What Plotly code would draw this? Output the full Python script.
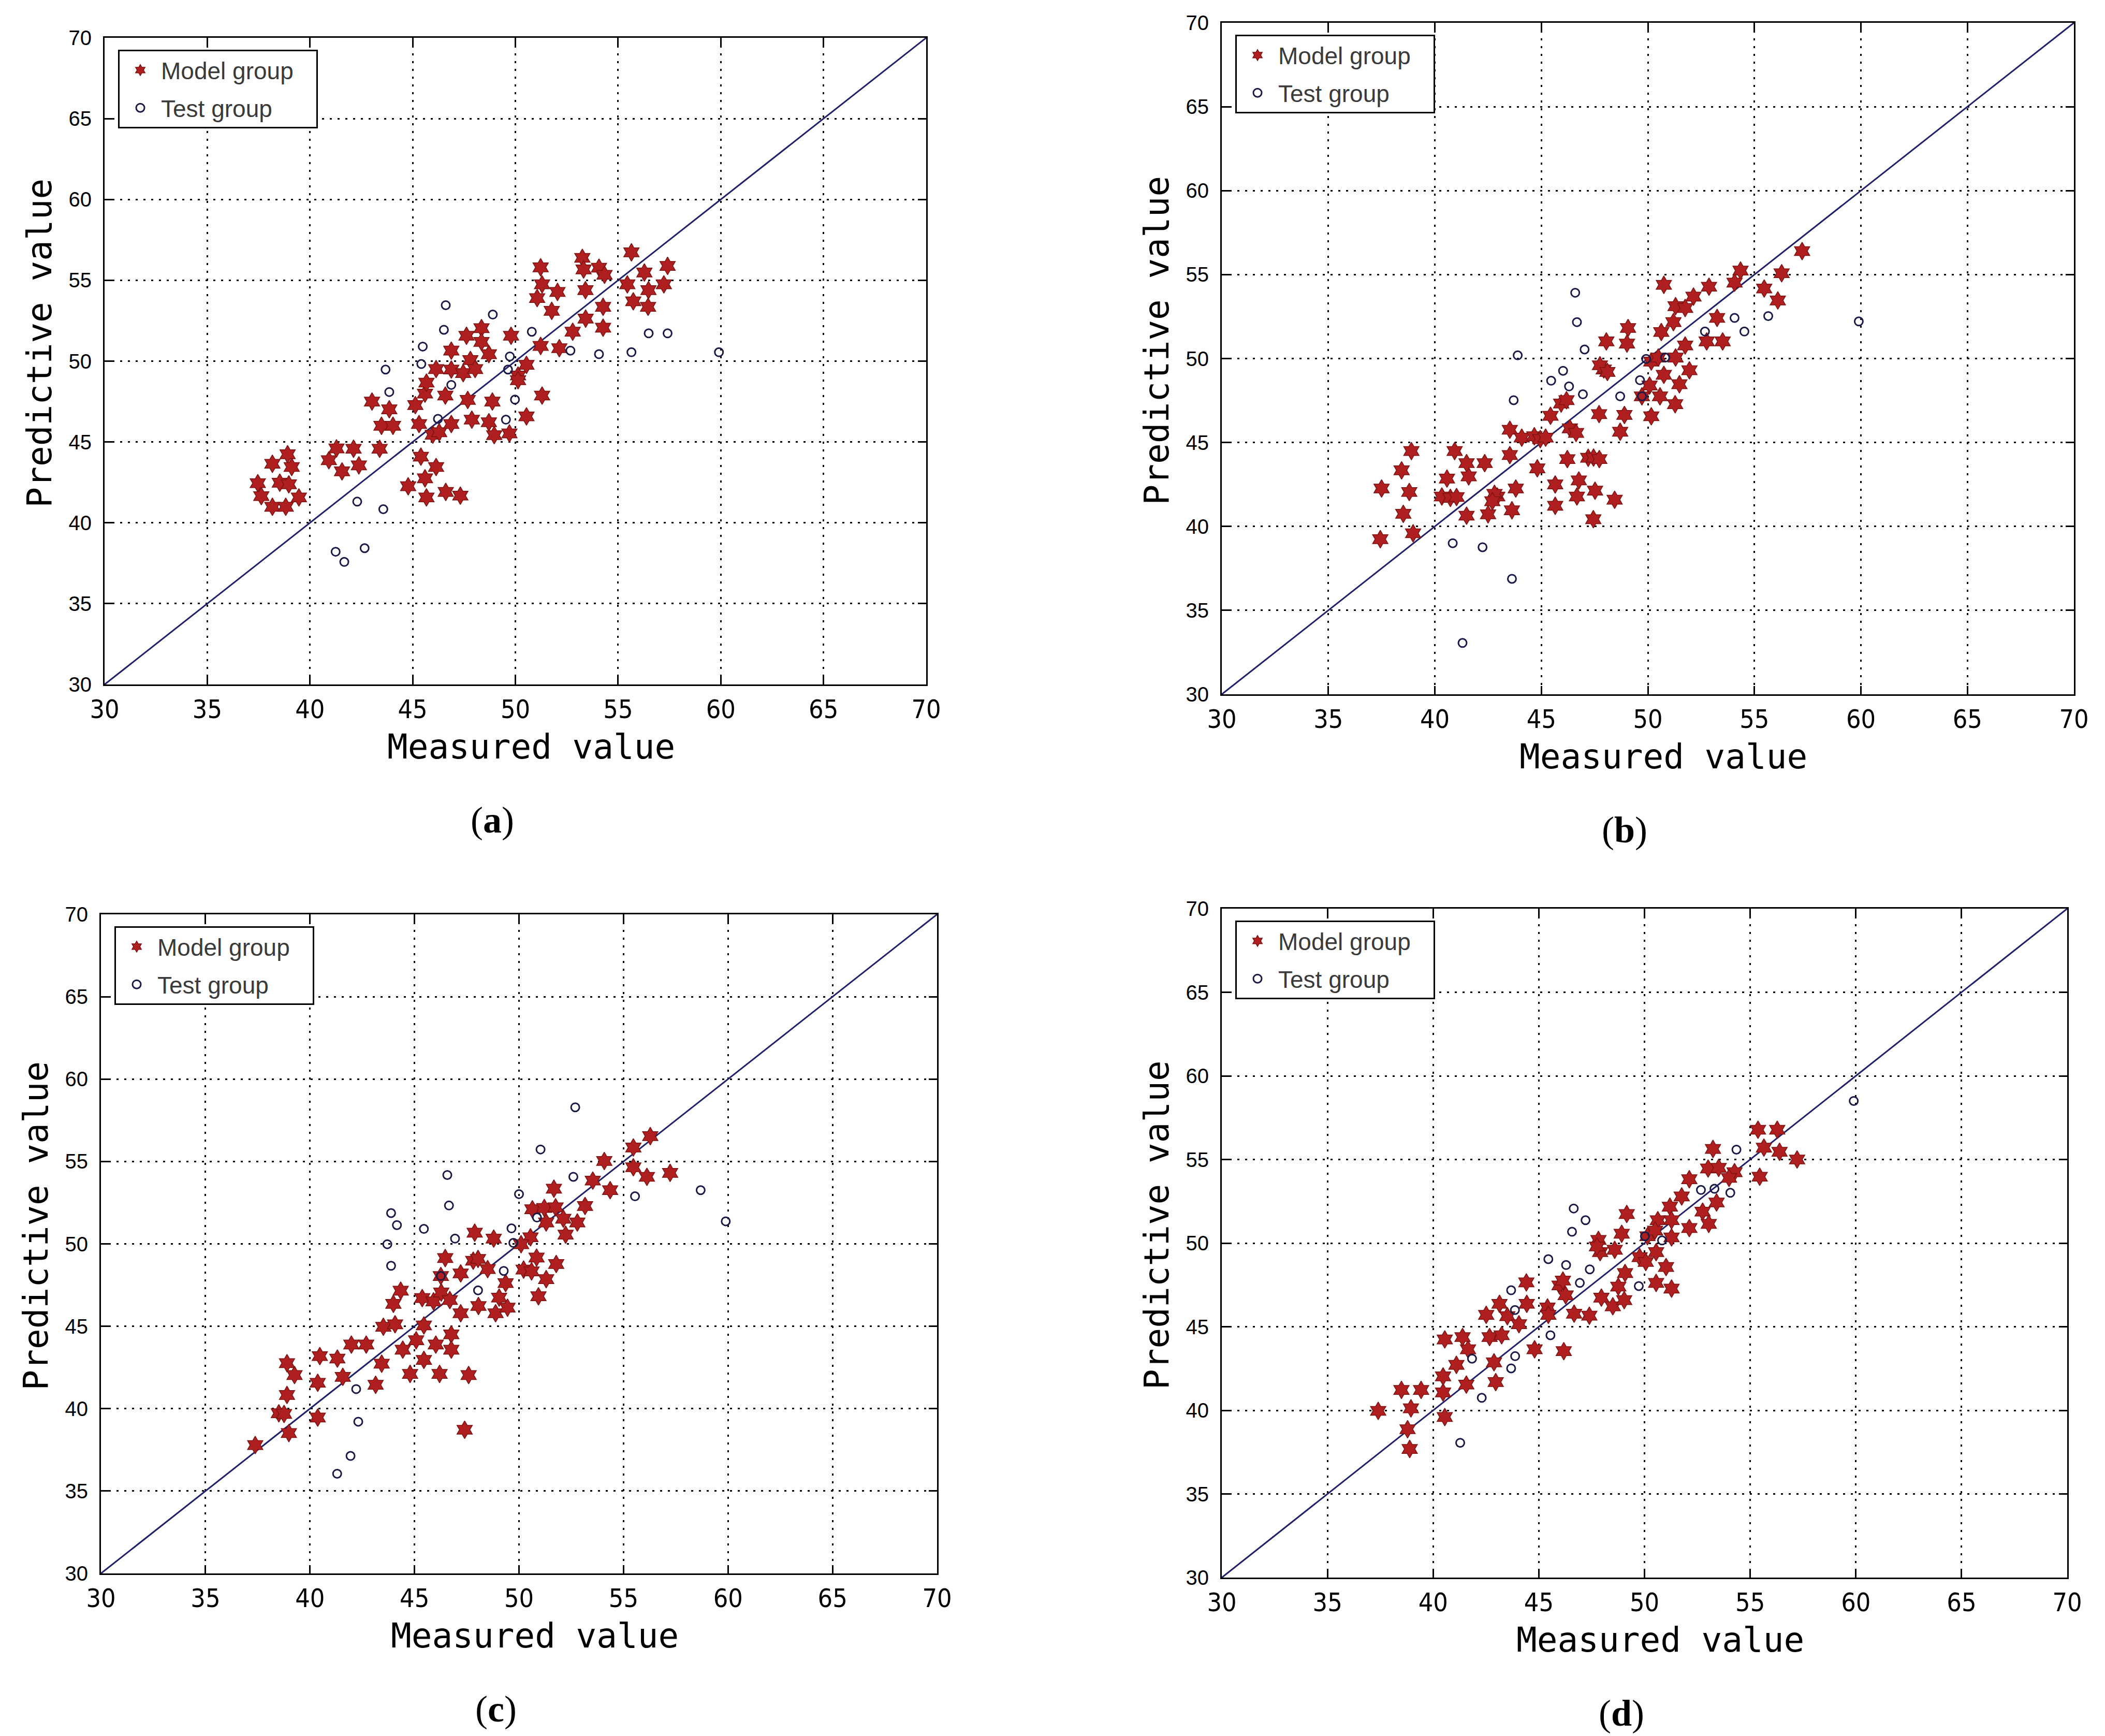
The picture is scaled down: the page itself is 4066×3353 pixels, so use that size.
import plotly.graph_objects as go

W, H = 4066, 3353

# ---- panel (a) ----
a_model_x = [37.46, 37.63, 38.17, 38.17, 38.91, 39.11, 38.53, 38.97, 38.82, 39.46, 40.92, 41.29, 42.12, 41.56,
             42.38, 43.02, 43.86, 43.48, 44.04, 43.39, 44.78, 45.4, 45.6, 45.67, 46.14, 46.61, 47.32, 45.13,
             45.31, 45.6, 45.67, 46.14, 45.98, 46.29, 46.59, 46.88, 46.88, 46.88, 47.46, 47.81, 48.04, 47.62,
             48.35, 48.35, 48.71, 47.68, 47.88, 48.71, 48.88, 48.97, 49.71, 49.79, 50.13, 50.13, 50.54, 50.54,
             53.26, 55.65, 51.23, 53.32, 54.07, 54.34, 57.41, 56.28, 51.3, 52.05, 51.06, 53.41, 55.45, 56.48,
             57.23, 51.77, 54.27, 55.74, 56.46, 53.42, 54.27, 52.79, 51.23, 52.14, 51.3]
a_model_y = [42.45, 41.65, 43.65, 40.99, 44.24, 43.45, 42.48, 42.38, 40.99, 41.57, 43.87, 44.6, 44.58, 43.18,
             43.55, 47.5, 47.02, 46.0, 46.0, 44.58, 42.26, 44.09, 42.75, 41.57, 43.45, 41.91, 41.68, 47.28,
             46.11, 47.99, 48.67, 49.51, 45.45, 45.6, 47.87, 46.11, 49.48, 50.65, 49.26, 50.07, 49.51, 51.57,
             52.04, 51.19, 50.43, 47.6, 46.38, 46.22, 47.5, 45.42, 45.53, 51.57, 49.11, 48.82, 49.77, 46.58,
             56.39, 56.73, 55.8, 55.67, 55.78, 55.34, 55.89, 55.48, 54.75, 54.28, 53.9, 54.39, 54.75, 54.39,
             54.75, 53.11, 53.36, 53.7, 53.36, 52.63, 52.07, 51.82, 50.94, 50.8, 47.87]
a_test_x = [46.61, 48.9, 46.52, 45.49, 45.42, 43.68, 43.86, 46.88, 49.73, 49.64, 50.8, 49.98, 46.23, 49.54,
            42.3, 43.57, 42.66, 41.25, 41.67, 52.68, 54.07, 55.65, 56.49, 57.41, 59.91]
a_test_y = [53.46, 52.88, 51.94, 50.9, 49.82, 49.48, 48.09, 48.53, 50.29, 49.48, 51.82, 47.62, 46.43, 46.38,
            41.31, 40.84, 38.43, 38.21, 37.58, 50.65, 50.43, 50.55, 51.72, 51.72, 50.55]

# ---- panel (b) ----
b_model_x = [37.44, 38.98, 38.52, 37.5, 38.8, 38.44, 38.9, 40.93, 40.57, 41.59, 41.49, 42.34, 40.33, 40.73,
             41.02, 41.49, 42.5, 42.93, 42.8, 42.7, 43.8, 43.62, 43.52, 43.52, 44.08, 44.67, 44.95, 45.2, 44.81,
             45.43, 45.93, 46.18, 46.22, 46.34, 46.63, 45.65, 45.65, 46.76, 46.67, 47.52, 47.44, 48.44, 47.2,
             47.45, 47.72, 47.71, 48.7, 48.9, 47.93, 47.75, 48.1, 48.05,
             57.24, 56.28, 55.46, 56.1, 54.35, 54.07, 52.87, 50.75, 52.14, 51.3, 51.75, 51.2, 50.63, 53.25,
             49.07, 49.02, 51.75, 52.76, 53.51, 51.3, 50.16, 50.49, 51.95, 50.75, 50.08, 51.48, 49.72, 50.57,
             51.28, 50.16]
b_model_y = [39.24, 39.59, 40.75, 42.26, 42.05, 43.34, 44.49, 44.49, 42.85, 42.98, 43.77, 43.77, 41.78, 41.7,
             41.75, 40.64, 40.72, 41.78, 41.94, 41.5, 42.26, 40.96, 44.25, 45.76, 45.29, 45.37, 45.2, 45.29, 43.46,
             46.59, 47.32, 47.52, 44.01, 45.84, 45.57, 42.5, 41.23, 42.74, 41.78, 42.13, 40.43, 41.59, 44.09,
             44.1, 44.01, 46.69, 45.64, 46.64, 49.35, 49.6, 49.2, 51.02,
             56.4, 55.08, 54.17, 53.46, 55.24, 54.52, 54.28, 54.39, 53.69, 53.12, 53.01, 52.17, 51.58, 52.42,
             51.82, 50.89, 50.78, 51.02, 51.02, 50.06, 49.82, 50.06, 49.3, 49.03, 48.39, 48.47, 47.75, 47.75,
             47.28, 46.56]
b_test_x = [46.59, 46.67, 47.03, 43.89, 46.02, 45.46, 46.3, 46.95, 48.7, 43.7, 40.84, 42.24, 43.62, 41.3,
            52.68, 54.07, 54.53, 55.65, 59.9, 49.63, 50.81, 49.92, 49.72]
b_test_y = [53.92, 52.17, 50.54, 50.19, 49.27, 48.68, 48.34, 47.87, 47.75, 47.52, 39.0, 38.76, 36.88, 33.06,
            51.61, 52.42, 51.61, 52.53, 52.21, 48.71, 50.06, 49.98, 47.75]

# ---- panel (c) ----
c_model_x = [37.38, 38.99, 38.51, 38.76, 38.9, 39.26, 38.9, 40.37, 40.37, 40.47, 41.31, 41.57, 41.98, 42.69,
             43.14, 43.43, 43.51, 44.07, 43.99, 44.34, 44.44, 44.79, 45.08, 45.45, 45.45, 46.02, 46.2, 46.76,
             46.76, 47.59, 47.4, 45.37, 45.91, 46.28, 46.69, 46.26, 46.47, 47.21, 47.21, 47.81, 48.04, 47.88,
             48.5, 48.06, 48.79, 48.88, 49.05,
             56.28, 55.47, 54.08, 55.47, 56.12, 57.23, 53.53, 54.36, 51.67, 53.16, 50.64, 51.21, 51.75, 51.3,
             52.12, 52.79, 52.23, 50.55, 50.1, 50.84, 51.78, 50.22, 50.6, 51.3, 49.36, 49.45, 50.93]
c_model_y = [37.79, 38.52, 39.72, 39.68, 40.83, 42.04, 42.76, 39.46, 41.57, 43.19, 43.04, 41.93, 43.89, 43.89,
             41.45, 42.73, 44.97, 45.12, 46.36, 47.16, 43.58, 42.11, 44.15, 45.05, 42.96, 43.89, 42.11, 44.51,
             43.58, 42.04, 38.72, 46.71, 46.51, 47.05, 46.59, 48.05, 49.14, 48.21, 45.79, 48.98, 49.09, 50.68,
             48.47, 46.23, 50.32, 45.79, 46.74,
             56.54, 55.85, 55.03, 54.65, 54.07, 54.31, 53.84, 53.26, 53.35, 52.3, 52.1, 52.18, 52.22, 51.3,
             51.53, 51.3, 50.56, 50.4, 49.98, 49.17, 48.78, 48.44, 48.33, 47.86, 47.62, 46.13, 46.82]
c_test_x = [46.57, 46.65, 43.88, 44.16, 45.45, 46.94, 43.7, 43.88, 46.26, 48.04, 42.21, 42.31, 41.94, 41.3,
            52.69, 51.03, 52.6, 50.0, 50.86, 49.64, 49.73, 49.27, 55.55, 58.69, 59.89]
c_test_y = [54.18, 52.33, 51.87, 51.14, 50.91, 50.32, 49.98, 48.67, 48.05, 47.18, 41.19, 39.21, 37.13, 36.05,
            58.29, 55.73, 54.07, 53.02, 51.6, 50.94, 50.06, 48.36, 52.89, 53.26, 51.37]

# ---- panel (d) ----
d_model_x = [37.4, 38.89, 38.79, 38.95, 38.5, 39.43, 40.55, 40.47, 40.47, 41.1, 41.57, 41.65, 40.55, 41.39,
             42.88, 42.96, 42.67, 43.24, 42.51, 43.14, 43.51, 44.06, 44.43, 44.41, 44.8, 46.18, 45.41, 45.45,
             45.98, 46.14, 46.27, 46.67, 47.39, 47.96, 48.5, 48.76, 47.82, 47.9, 47.75, 48.59, 48.92,
             55.37, 56.28, 55.65, 56.39, 57.22, 55.45, 53.24, 53.01, 53.51, 54.26, 54.0, 52.12, 51.76, 51.2,
             49.16, 50.63, 51.28, 52.75, 53.41, 53.04, 52.12, 50.14, 50.5, 51.28, 50.55, 49.77, 50.06, 51.02,
             49.08, 50.55, 51.28, 49.04]
d_model_y = [39.97, 37.69, 38.87, 40.12, 41.22, 41.22, 39.6, 41.07, 42.03, 42.72, 41.54, 43.65, 44.24, 44.38,
             42.87, 41.69, 44.38, 44.49, 45.71, 46.37, 45.63, 45.15, 46.37, 47.65, 43.65, 43.54, 46.15, 45.71,
             47.47, 47.76, 46.88, 45.78, 45.66, 46.74, 46.22, 47.4, 50.19, 49.46, 49.8, 49.6, 50.56,
             56.78, 56.78, 55.71, 55.46, 55.0, 53.97, 55.63, 54.46, 54.5, 54.24, 53.9, 53.82, 52.79, 52.18,
             51.74, 51.37, 51.37, 51.88, 52.43, 51.15, 50.9, 50.41, 50.75, 50.34, 49.46, 49.16, 48.87, 48.57,
             48.21, 47.62, 47.28, 46.59]
d_test_x = [46.65, 47.21, 46.57, 45.45, 46.29, 47.41, 46.94, 43.69, 43.87, 45.55, 43.88, 43.69, 41.84, 42.3,
            41.28, 59.9, 54.35, 52.67, 53.31, 54.06, 50.02, 50.83, 49.73]
d_test_y = [52.07, 51.37, 50.68, 49.04, 48.69, 48.43, 47.62, 47.18, 46.0, 44.49, 43.24, 42.51, 43.09, 40.75,
            38.06, 58.5, 55.59, 53.18, 53.25, 53.01, 50.41, 50.16, 47.43]

AX_RANGE = [30, 70]
TICKS = [30, 35, 40, 45, 50, 55, 60, 65, 70]

RED = "#b01f1f"
RED_EDGE = "#7c1212"
NAVY = "#1a1a48"

OFF = 8  # page body margin of the html page
# plot boxes in page pixels: left, top, right, bottom
BOXES = [(202, 73, 1789, 1322), (2360, 44, 4006, 1341),
         (195, 1766, 1810, 3039), (2360, 1755, 3993, 3047)]
PANELS = [
    ("a", a_model_x, a_model_y, a_test_x, a_test_y),
    ("b", b_model_x, b_model_y, b_test_x, b_test_y),
    ("c", c_model_x, c_model_y, c_test_x, c_test_y),
    ("d", d_model_x, d_model_y, d_test_x, d_test_y),
]


def px(v):
    return (v - OFF) / W


def py(v):
    return 1 - (v - OFF) / H


fig = go.Figure()
annotations = []
layout = {}
NBSP = "\u00a0"

for i, ((tag, mx, my, tx, ty), (l, t, r, b)) in enumerate(zip(PANELS, BOXES)):
    n = "" if i == 0 else str(i + 1)
    xa, ya, lg = "x" + n, "y" + n, "legend" + n

    # 1:1 reference line
    fig.add_trace(go.Scatter(x=AX_RANGE, y=AX_RANGE, mode="lines", xaxis=xa, yaxis=ya,
                             line=dict(color="#20206a", width=3), showlegend=False, hoverinfo="skip"))
    fig.add_trace(go.Scatter(x=mx, y=my, mode="markers", name="Model group" + NBSP * 3,
                             xaxis=xa, yaxis=ya, legend=lg, legendgroup=tag + "m",
                             marker=dict(symbol="hexagram", size=26, color=RED,
                                         line=dict(color=RED_EDGE, width=1.5))))
    fig.add_trace(go.Scatter(x=tx, y=ty, mode="markers", name="Test group", xaxis=xa, yaxis=ya, legend=lg,
                             legendgroup=tag + "t",
                             marker=dict(symbol="circle-open", size=16, color=NAVY, line=dict(width=3))))

    common = dict(range=AX_RANGE, tickvals=TICKS, showline=True, linecolor="black", linewidth=3,
                  mirror="ticks", ticks="inside", ticklen=16, tickwidth=3, tickcolor="black",
                  showgrid=True, gridcolor="black", gridwidth=3, griddash="4px,11px", zeroline=False,
                  automargin=False)
    layout["xaxis" + n] = dict(common, domain=[px(l), px(r)], anchor=ya,
                               tickfont=dict(family="Liberation Sans Narrow, DejaVu Sans Condensed, sans-serif",
                                             size=50, color="black"),
                               ticklabelstandoff=2)
    layout["yaxis" + n] = dict(common, domain=[py(b), py(t)], anchor=xa,
                               tickfont=dict(family="Liberation Sans, Arial, sans-serif", size=40, color="black"),
                               ticklabelstandoff=14)
    layout[lg] = dict(x=px(l + 26), y=py(t + 23), xanchor="left", yanchor="top",
                      bgcolor="white", bordercolor="black", borderwidth=3, itemwidth=70,
                      font=dict(family="Liberation Sans, Arial, sans-serif", size=46, color="#3a3a3a"),
                      tracegroupgap=10)

    # axis titles and panel label
    cx = (l + r) / 2
    annotations.append(dict(text="Measured value", x=px(cx + 30), y=py(b + 120), xref="paper",
                            yref="paper", showarrow=False, xanchor="center", yanchor="middle",
                            font=dict(family="DejaVu Sans Mono, monospace", size=66, color="black")))
    annotations.append(dict(text="Predictive value", x=px(l - 126), y=py((t + b) / 2 - 35),
                            xref="paper", yref="paper", showarrow=False, textangle=-90,
                            xanchor="center", yanchor="middle",
                            font=dict(family="DejaVu Sans Mono, monospace", size=66, color="black")))
    annotations.append(dict(text="(<b>" + tag + "</b>)", x=px(cx - 45), y=py(b + 262),
                            xref="paper", yref="paper", showarrow=False, xanchor="center", yanchor="middle",
                            font=dict(family="Liberation Serif, Times New Roman, serif", size=72,
                                      color="black")))

fig.update_layout(
    width=W, height=H,
    margin=dict(l=0, r=0, t=0, b=0, autoexpand=False),
    paper_bgcolor="white",
    plot_bgcolor="white",
    annotations=annotations,
    **layout,
)

fig.write_html("out.html")
